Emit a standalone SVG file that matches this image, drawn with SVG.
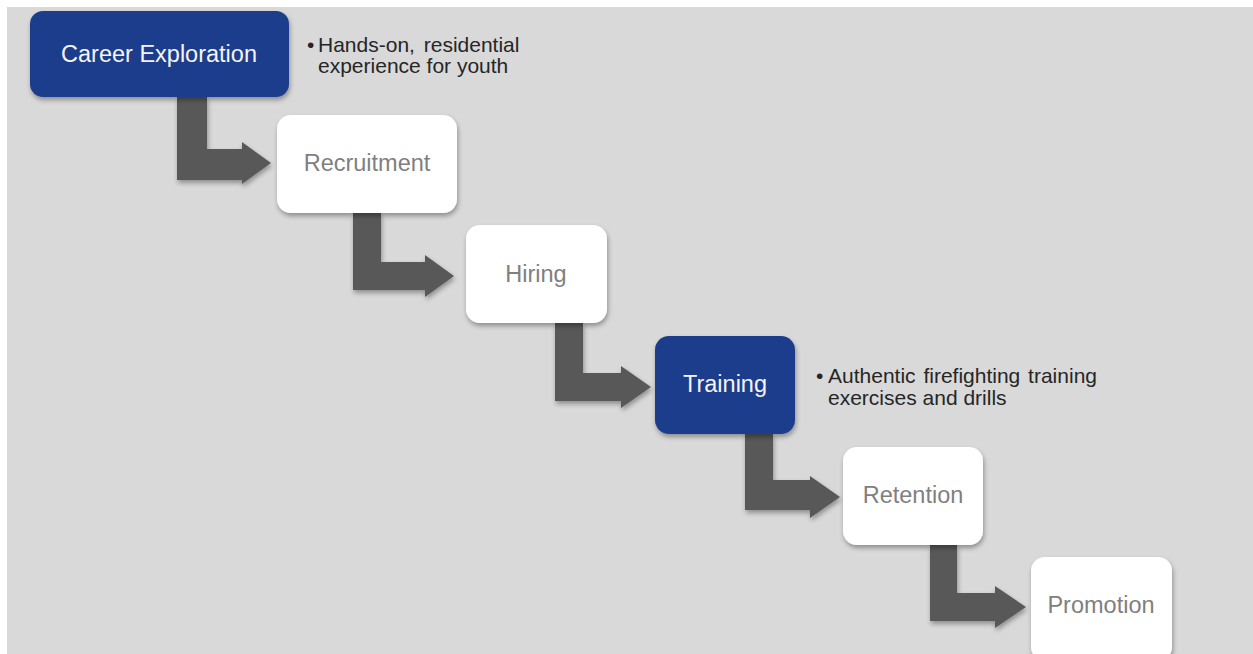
<svg xmlns="http://www.w3.org/2000/svg" width="1253" height="654" viewBox="0 0 1253 654">
<defs>
<filter id="sh" x="-20%" y="-20%" width="140%" height="150%">
<feGaussianBlur in="SourceAlpha" stdDeviation="2.5"/>
<feOffset dx="1" dy="3" result="b"/>
<feComponentTransfer><feFuncA type="linear" slope="0.35"/></feComponentTransfer>
<feMerge><feMergeNode/><feMergeNode in="SourceGraphic"/></feMerge>
</filter>
</defs>
<style>
.blue{fill:#1f3e8c;filter:url(#sh)}
.white{fill:#ffffff;filter:url(#sh)}
.arrow{fill:#595959;filter:url(#sh)}
.lbl{font-family:"Liberation Sans",Arial,sans-serif;font-size:23.5px;text-anchor:middle}
.lw{fill:#f4f4f4}
.lg{fill:#7f7f7f}
.bul{font-family:"Liberation Sans",Arial,sans-serif;font-size:21px;fill:#262626}
</style>
<rect x="0" y="0" width="1253" height="654" fill="#ffffff"/>
<rect x="7" y="7" width="1246" height="647" fill="#d9d9d9"/>

<g id="connectors">
<polygon class="arrow" points="177,97 207,97 207,149 242,149 242,142 271,163 242,184 242,180 177,180"/>
<polygon class="arrow" points="353,213 381,213 381,262 425,262 425,255 454,276 425,297 425,290 353,290"/>
<polygon class="arrow" points="555,323 583,323 583,373 621,373 621,366 651,387 621,408 621,401 555,401"/>
<polygon class="arrow" points="745,434 773,434 773,480 810,480 810,476 840,497 810,518 810,510 745,510"/>
<polygon class="arrow" points="930,545 957,545 957,593 995,593 995,586 1026,607 995,628 995,621 930,621"/>
</g>

<g id="career-exploration">
<rect class="blue" x="30" y="11" width="259" height="86" rx="13"/>
<text class="lbl lw" x="159" y="62">Career Exploration</text>
</g>
<g id="career-note">
<text class="bul" x="307" y="52">•</text>
<text class="bul" x="318" y="52" word-spacing="3">Hands-on, residential</text>
<text class="bul" x="318" y="73">experience for youth</text>
</g>

<g id="recruitment">
<rect class="white" x="277" y="115" width="180" height="98" rx="14"/>
<text class="lbl lg" x="367" y="171">Recruitment</text>
</g>

<g id="hiring">
<rect class="white" x="466" y="225" width="141" height="98" rx="14"/>
<text class="lbl lg" x="536" y="282">Hiring</text>
</g>

<g id="training">
<rect class="blue" x="655" y="336" width="140" height="98" rx="14"/>
<text class="lbl lw" x="725" y="392">Training</text>
</g>
<g id="training-note">
<text class="bul" x="816" y="383">•</text>
<text class="bul" x="828" y="383" word-spacing="2">Authentic firefighting training</text>
<text class="bul" x="828" y="405">exercises and drills</text>
</g>

<g id="retention">
<rect class="white" x="843" y="447" width="140" height="98" rx="14"/>
<text class="lbl lg" x="913" y="503">Retention</text>
</g>

<g id="promotion">
<rect class="white" x="1031" y="557" width="141" height="104" rx="14"/>
<text class="lbl lg" x="1101" y="613">Promotion</text>
</g>
</svg>
